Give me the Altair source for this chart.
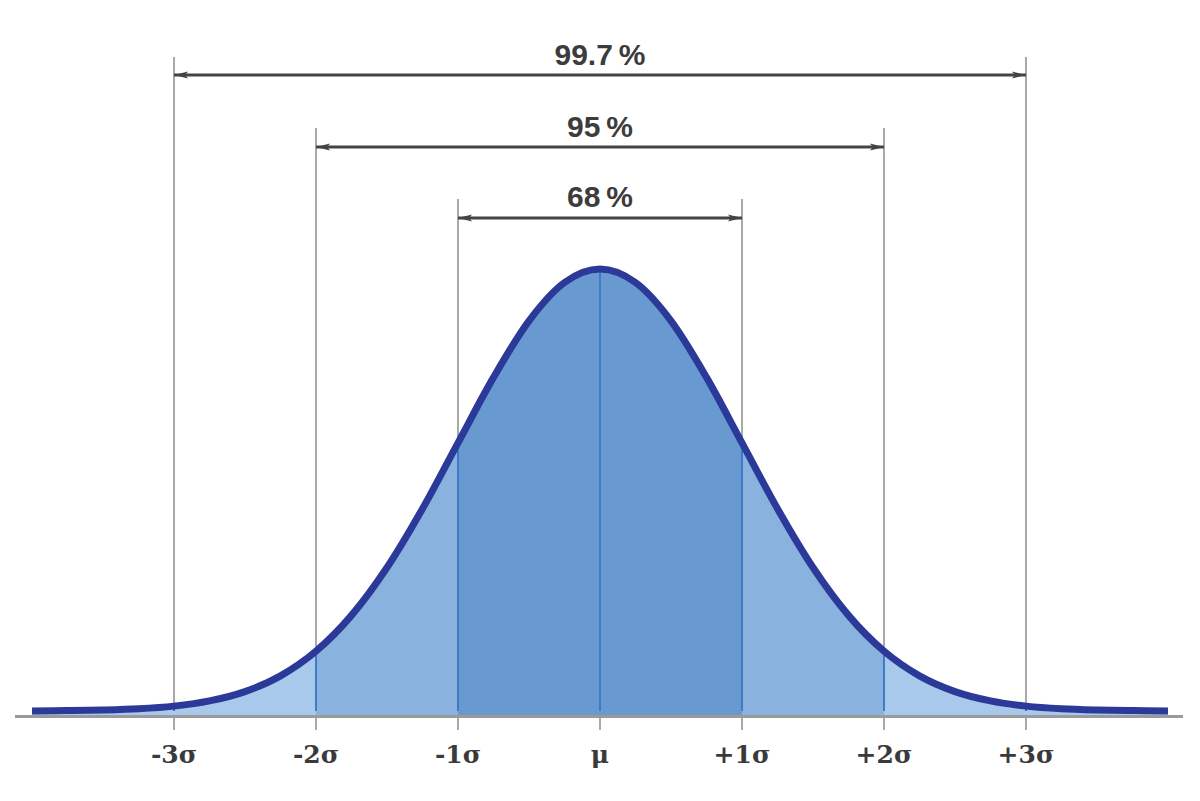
import altair as alt
import pandas as pd

# ---- data (curve height at each x, in sigma units) ----
xs = [-4.0, -3.75, -3.5, -3.25, -3.0, -2.75, -2.5, -2.25, -2.0, -1.75, -1.5, -1.25,
      -1.0, -0.75, -0.5, -0.25, 0.0, 0.25, 0.5, 0.75, 1.0, 1.25, 1.5, 1.75,
      2.0, 2.25, 2.5, 2.75, 3.0, 3.25, 3.5, 3.75, 4.0]
density = [0.0001, 0.0004, 0.0009, 0.0020, 0.0044, 0.0091, 0.0175, 0.0317,
           0.0540, 0.0863, 0.1295, 0.1826, 0.2420, 0.3011, 0.3521, 0.3867,
           0.3989, 0.3867, 0.3521, 0.3011, 0.2420, 0.1826, 0.1295, 0.0863,
           0.0540, 0.0317, 0.0175, 0.0091, 0.0044, 0.0020, 0.0009, 0.0004, 0.0001]

sigma_marks = [-3, -2, -1, 0, 1, 2, 3]
tick_labels = ["-3σ", "-2σ", "-1σ", "μ", "+1σ", "+2σ", "+3σ"]
range_half = [1, 2, 3]
range_labels = ["68\u2009%", "95\u2009%", "99.7\u2009%"]

# ---- layout / style ----
W, H = 1200, 801
X_DOM = [-4.2254, 4.2254]
Y_DOM = [-0.08123, 0.6417]
xsc = alt.Scale(domain=X_DOM, nice=False, zero=False)
ysc = alt.Scale(domain=Y_DOM, nice=False, zero=False)

band_colors = ["#6899d0", "#89b2df", "#a8c8ec", "#a8c8ec"]
line_top = {3: 57, 2: 128, 1: 199, 0: 712}
arrow_y = {3: 75, 2: 147, 1: 218}
label_y = {3: 65, 2: 137, 1: 207}
BASE_PX = 716.5
TICK_BOTTOM = 730

# ---- tables built from the arrays ----
curve = pd.DataFrame({"x": xs, "y": density})

area_rows = []
bands = [("b0", "C", -1, 1), ("b1", "L1", -2, -1), ("b1", "R1", 1, 2),
         ("b2", "L2", -3, -2), ("b2", "R2", 2, 3),
         ("b3", "L3", -4, -3), ("b3", "R3", 3, 4)]
for band, seg, lo, hi in bands:
    for x, y in zip(xs, density):
        if lo <= x <= hi:
            area_rows.append({"x": x, "y": y, "band": band, "seg": seg})
areas = pd.DataFrame(area_rows)

dens_at = dict(zip(xs, density))
vlines = pd.DataFrame({
    "x": sigma_marks,
    "top": [line_top[abs(k)] for k in sigma_marks],
    "bottom": [TICK_BOTTOM] * len(sigma_marks),
    "h": [dens_at[float(k)] for k in sigma_marks],
})
ticks = pd.DataFrame({"x": sigma_marks, "label": tick_labels})

arrows = pd.DataFrame({
    "lo": [-k for k in range_half],
    "hi": range_half,
    "ay": [arrow_y[k] for k in range_half],
    "ly": [label_y[k] for k in range_half],
    "label": range_labels,
    "c": [0] * len(range_half),
})
heads = pd.DataFrame({
    "x": [-k for k in range_half] + list(range_half),
    "ay": [arrow_y[k] for k in range_half] * 2,
    "side": ["L"] * len(range_half) + ["R"] * len(range_half),
})

# ---- layers ----
gray_rules = alt.Chart(vlines).mark_rule(color="#a9a9a9", strokeWidth=2).encode(
    x=alt.X("x:Q", scale=xsc, axis=None),
    y=alt.Y("top:Q", scale=None),
    y2="bottom:Q",
)

area = alt.Chart(areas).mark_area(interpolate="monotone", opacity=1).encode(
    x=alt.X("x:Q", scale=xsc, axis=None),
    y=alt.Y("y:Q", scale=ysc, axis=None, stack=None),
    y2=alt.value(BASE_PX),
    color=alt.Color("band:N", scale=alt.Scale(domain=["b0", "b1", "b2", "b3"],
                                              range=band_colors), legend=None),
    detail="seg:N",
)

blue_rules = alt.Chart(vlines).mark_rule(color="#3f7cc6", strokeWidth=2).encode(
    x=alt.X("x:Q", scale=xsc, axis=None),
    y=alt.Y("h:Q", scale=ysc, axis=None),
    y2=alt.datum(0),
)

baseline = alt.Chart(pd.DataFrame({"a": [0]})).mark_rule(
    color="#9a9a9a", strokeWidth=3).encode(
    x=alt.value(15), x2=alt.value(1183), y=alt.value(BASE_PX))

line = alt.Chart(curve).mark_line(interpolate="monotone", strokeWidth=7,
                                  color="#2b3a98").encode(
    x=alt.X("x:Q", scale=xsc, axis=None),
    y=alt.Y("y:Q", scale=ysc, axis=None),
)

arrow_lines = alt.Chart(arrows).mark_rule(color="#444444", strokeWidth=3).encode(
    x=alt.X("lo:Q", scale=xsc, axis=None),
    x2="hi:Q",
    y=alt.Y("ay:Q", scale=None),
)

left_path = "M0,0L2,-0.5L1.6,0L2,0.5Z"
right_path = "M0,0L-2,-0.5L-1.6,0L-2,0.5Z"
head_l = alt.Chart(heads).transform_filter("datum.side == 'L'").mark_point(
    shape=left_path, filled=True, size=196, color="#444444", opacity=1).encode(
    x=alt.X("x:Q", scale=xsc, axis=None),
    y=alt.Y("ay:Q", scale=None),
)
head_r = alt.Chart(heads).transform_filter("datum.side == 'R'").mark_point(
    shape=right_path, filled=True, size=196, color="#444444", opacity=1).encode(
    x=alt.X("x:Q", scale=xsc, axis=None),
    y=alt.Y("ay:Q", scale=None),
)

range_text = alt.Chart(arrows).mark_text(
    font="Liberation Sans", fontWeight="bold", fontSize=30, color="#3c3c3c",
    align="center", baseline="alphabetic").encode(
    x=alt.X("c:Q", scale=xsc, axis=None),
    y=alt.Y("ly:Q", scale=None),
    text="label:N",
)

tick_text = alt.Chart(ticks).mark_text(
    font="DejaVu Serif", fontWeight="bold", fontSize=25, color="#3a3a3a",
    align="center", baseline="alphabetic").encode(
    x=alt.X("x:Q", scale=xsc, axis=None),
    y=alt.value(763),
    text="label:N",
)

chart = alt.layer(
    gray_rules, area, blue_rules, baseline, line,
    arrow_lines, head_l, head_r, range_text, tick_text,
).properties(
    width=W, height=H, padding=0,
    autosize=alt.AutoSizeParams(type="none"),
    background="white",
).configure_view(stroke=None)

chart.save("out.html", embed_options={"renderer": "svg", "actions": False})
